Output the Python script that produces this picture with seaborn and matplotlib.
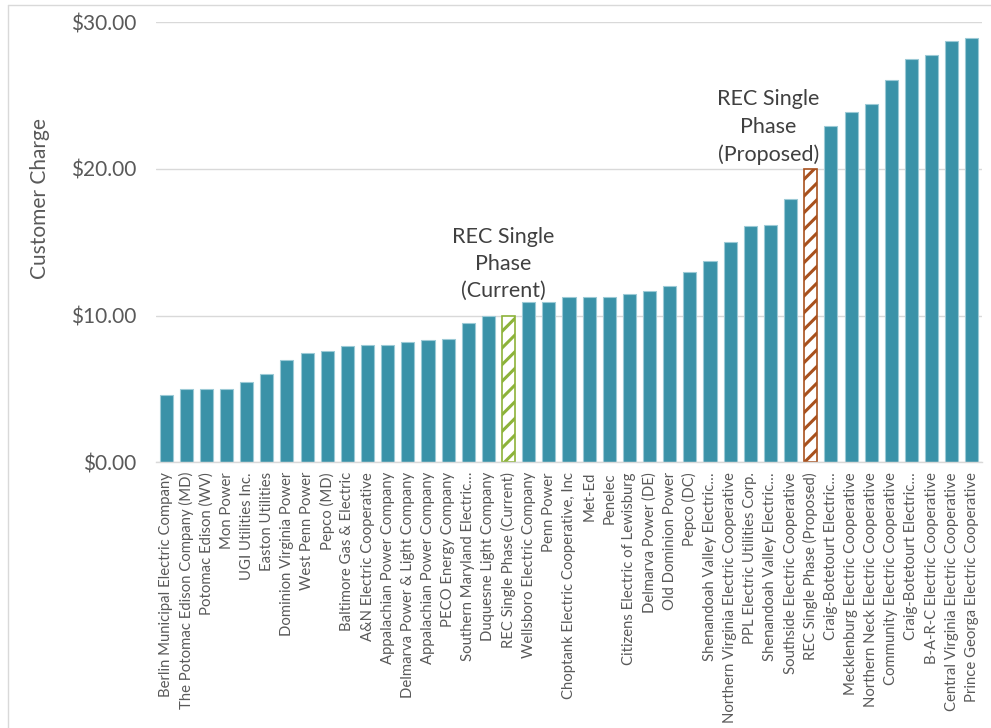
import matplotlib
matplotlib.use("Agg")
import matplotlib.pyplot as plt
from matplotlib.lines import Line2D
import seaborn as sns
import pandas as pd
import numpy as np

labels = [
    "Berlin Municipal Electric Company",
    "The Potomac Edison Company (MD)",
    "Potomac Edison (WV)",
    "Mon Power",
    "UGI Utilities Inc.",
    "Easton Utilities",
    "Dominion Virginia Power",
    "West Penn Power",
    "Pepco (MD)",
    "Baltimore Gas & Electric",
    "A&N Electric Cooperative",
    "Appalachian Power Company",
    "Delmarva Power & Light Company",
    "Appalachian Power Company",
    "PECO Energy Company",
    "Southern Maryland Electric…",
    "Duquesne Light Company",
    "REC Single Phase (Current)",
    "Wellsboro Electric Company",
    "Penn Power",
    "Choptank Electric Cooperative, Inc",
    "Met-Ed",
    "Penelec",
    "Citizens Electric of Lewisburg",
    "Delmarva Power (DE)",
    "Old Dominion Power",
    "Pepco (DC)",
    "Shenandoah Valley Electric…",
    "Northern Virginia Electric Cooperative",
    "PPL Electric Utilities Corp.",
    "Shenandoah Valley Electric…",
    "Southside Electric Cooperative",
    "REC Single Phase (Proposed)",
    "Craig-Botetourt Electric…",
    "Mecklenburg Electric Cooperative",
    "Northern Neck Electric Cooperative",
    "Community Electric Cooperative",
    "Craig-Botetourt Electric…",
    "B-A-R-C Electric Cooperative",
    "Central Virginia Electric Cooperative",
    "Prince Georga Electric Cooperative",
]

charges = [
    4.60, 5.00, 5.00, 5.00, 5.50, 6.00, 7.00, 7.45, 7.60, 7.90,
    8.00, 8.00, 8.20, 8.35, 8.40, 9.50, 9.95, 10.00, 10.95, 10.95,
    11.25, 11.25, 11.25, 11.45, 11.70, 12.00, 12.95, 13.70, 15.00, 16.10,
    16.15, 17.95, 20.00, 22.90, 23.90, 24.40, 26.10, 27.50, 27.75, 28.70,
    28.95,
]

rec_current = "REC Single Phase (Current)"
rec_proposed = "REC Single Phase (Proposed)"
yticks = [0, 10, 20, 30]
ytick_labels = ["$0.00", "$10.00", "$20.00", "$30.00"]

df = pd.DataFrame({"idx": list(range(len(labels))), "label": labels, "charge": charges})

sns.set_theme(style="white")
plt.rcParams["font.family"] = ["Lato", "DejaVu Sans"]
plt.rcParams["hatch.linewidth"] = 2.2

teal = "#3A92A8"
green = "#8DB33A"
brown = "#A8511E"
grey_txt = "#595959"
grid_c = "#D9D9D9"

fig = plt.figure(figsize=(9.91, 7.28), dpi=100)
ax = fig.add_axes([156 / 991, (728 - 462.3) / 728, (982 - 156) / 991, (462.3 - 22.3) / 728])

sns.barplot(data=df, x="idx", y="charge", order=list(range(len(labels))),
            color=teal, width=0.65, ax=ax, saturation=1,
            edgecolor="#9CCAD6", linewidth=0.8)

for i, p in enumerate(ax.patches):
    lab = labels[i]
    if lab == rec_current:
        p.set_facecolor("white")
        p.set_edgecolor(green)
        p.set_hatch("//")
        p.set_linewidth(1.2)
    elif lab == rec_proposed:
        p.set_facecolor("white")
        p.set_edgecolor(brown)
        p.set_hatch("//")
        p.set_linewidth(1.2)

ax.set_ylim(0, 30)
ax.set_xlim(-0.5, len(labels) - 0.5)
ax.set_yticks(yticks)
ax.set_yticklabels(ytick_labels, fontsize=15, color=grey_txt)
ax.yaxis.grid(True, color=grid_c, linewidth=1)
ax.set_axisbelow(True)
ax.tick_params(axis="y", length=0, pad=14)

ax.set_xticks(range(len(labels)))
ax.set_xticklabels(labels, rotation=90, fontsize=10.7, color=grey_txt, va="top", ha="center")
ax.tick_params(axis="x", which="major", length=0, pad=7)
ax.set_xticks(np.arange(-0.5, len(labels), 1.0), minor=True)
ax.tick_params(axis="x", which="minor", length=5, color=grid_c, width=1)

for s in ["top", "right", "left"]:
    ax.spines[s].set_visible(False)
ax.spines["bottom"].set_color(grid_c)
ax.spines["bottom"].set_linewidth(1)

ax.set_xlabel("")
ax.set_ylabel("Customer Charge", fontsize=15, color=grey_txt)
ax.yaxis.set_label_coords(-0.128, 0.6)

ci = labels.index(rec_current)
ax.text(ci - 0.25, charges[ci] + 1.0, "REC Single\nPhase\n(Current)", ha="center", va="bottom",
        fontsize=15.5, color="#404040", linespacing=1.45, multialignment="center")
pi = labels.index(rec_proposed)
ax.text(pi + 0.45, charges[pi] + 0.3, "REC Single\nPhase\n(Proposed)", ha="right", va="bottom",
        fontsize=15.5, color="#404040", linespacing=1.45, multialignment="center")

# chart area border (left and top)
fig.add_artist(Line2D([7.5 / 991, 7.5 / 991], [0, 1 - 5 / 728], transform=fig.transFigure, color=grid_c, lw=1))
fig.add_artist(Line2D([7.5 / 991, 1], [1 - 5 / 728, 1 - 5 / 728], transform=fig.transFigure, color=grid_c, lw=1))

fig.savefig("out.png", dpi=100)
